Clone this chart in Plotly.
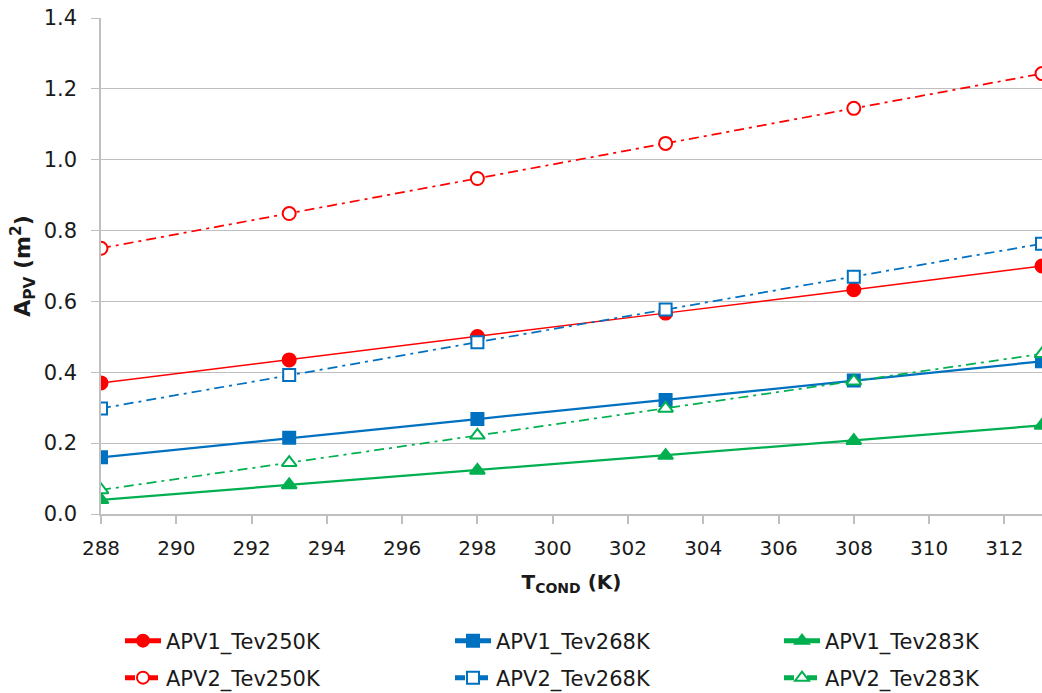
import plotly.graph_objects as go

t_cond = [288, 293, 298, 303, 308, 313]
apv1_250 = [0.370, 0.435, 0.501, 0.567, 0.633, 0.700]
apv1_268 = [0.160, 0.215, 0.268, 0.322, 0.377, 0.431]
apv1_283 = [0.040, 0.082, 0.123, 0.165, 0.207, 0.250]
apv2_250 = [0.750, 0.848, 0.947, 1.046, 1.145, 1.243]
apv2_268 = [0.298, 0.392, 0.485, 0.577, 0.670, 0.763]
apv2_283 = [0.068, 0.145, 0.222, 0.298, 0.375, 0.452]

RED = "#FF0000"
BLUE = "#0070C0"
GREEN = "#00B050"
DASHDOT = "10px,5px,3px,5px"
FONT = "DejaVu Sans"
TXT = "#1a1a1a"
GRID = "#BFBFBF"

fig = go.Figure()

# (name, values, color, symbol, filled, dash, line width, marker size, legend column, legend row)
series = [
    ("APV1_Tev250K", apv1_250, RED, "circle", True, "solid", 1.5, 13, 0, 0),
    ("APV1_Tev268K", apv1_268, BLUE, "square", True, "solid", 2.25, 12, 1, 0),
    ("APV1_Tev283K", apv1_283, GREEN, "triangle-up", True, "solid", 2.25, 13, 2, 0),
    ("APV2_Tev250K", apv2_250, RED, "circle", False, DASHDOT, 1.75, 13, 0, 1),
    ("APV2_Tev268K", apv2_268, BLUE, "square", False, DASHDOT, 1.75, 12, 1, 1),
    ("APV2_Tev283K", apv2_283, GREEN, "triangle-up", False, DASHDOT, 1.75, 13, 2, 1),
]

col_x = [120, 450, 779]   # legend column left edges (px)
row_y = [641, 678]        # legend row centres (px)

legends = {}
for i, (name, ys, color, sym, filled, dash, lw, ms, col, row) in enumerate(series):
    key = "legend" if i == 0 else f"legend{i + 1}"
    fig.add_trace(go.Scatter(
        x=t_cond, y=ys, name=name, mode="lines+markers",
        line=dict(color=color, width=lw, dash=dash),
        marker=dict(symbol=sym, size=ms,
                    color=color if filled else "white",
                    line=dict(color=color, width=2)),
        legend=key,
    ))
    legends[key] = dict(
        orientation="h", xref="paper", yref="container",
        xanchor="left", yanchor="middle",
        x=(col_x[col] - 101) / 941, y=1 - row_y[row] / 693,
        font=dict(family=FONT, size=21, color=TXT),
        bgcolor="rgba(0,0,0,0)", itemsizing="constant", itemwidth=36,
    )

fig.update_layout(
    width=1042, height=693,
    margin=dict(l=101, r=0, t=18, b=179),
    plot_bgcolor="white", paper_bgcolor="white",
    font=dict(family=FONT, size=20, color=TXT),
    showlegend=True,
    **legends,
    xaxis=dict(
        range=[288, 313], dtick=2, tick0=288,
        showgrid=False, zeroline=False,
        showline=True, linecolor=GRID, linewidth=1.5,
        ticks="outside", ticklen=8, tickcolor=GRID, tickwidth=1.5,
        ticklabelstandoff=7,
        tickfont=dict(family=FONT, size=20, color=TXT),
        title=dict(text="<b>T<sub>COND</sub> (K)</b>", font=dict(family=FONT, size=20, color=TXT), standoff=16),
    ),
    yaxis=dict(
        range=[0, 1.4], dtick=0.2, tickformat=".1f",
        showgrid=True, gridcolor=GRID, gridwidth=1.2, zeroline=False,
        showline=True, linecolor=GRID, linewidth=1.5,
        ticks="outside", ticklen=8, tickcolor=GRID, tickwidth=1.2,
        ticklabelstandoff=10,
        tickfont=dict(family=FONT, size=21, color=TXT),
        title=dict(text="<b>A<sub>PV</sub> (m<sup>2</sup>)</b>", font=dict(family=FONT, size=22, color=TXT), standoff=7),
    ),
)

fig.write_html("out.html")
